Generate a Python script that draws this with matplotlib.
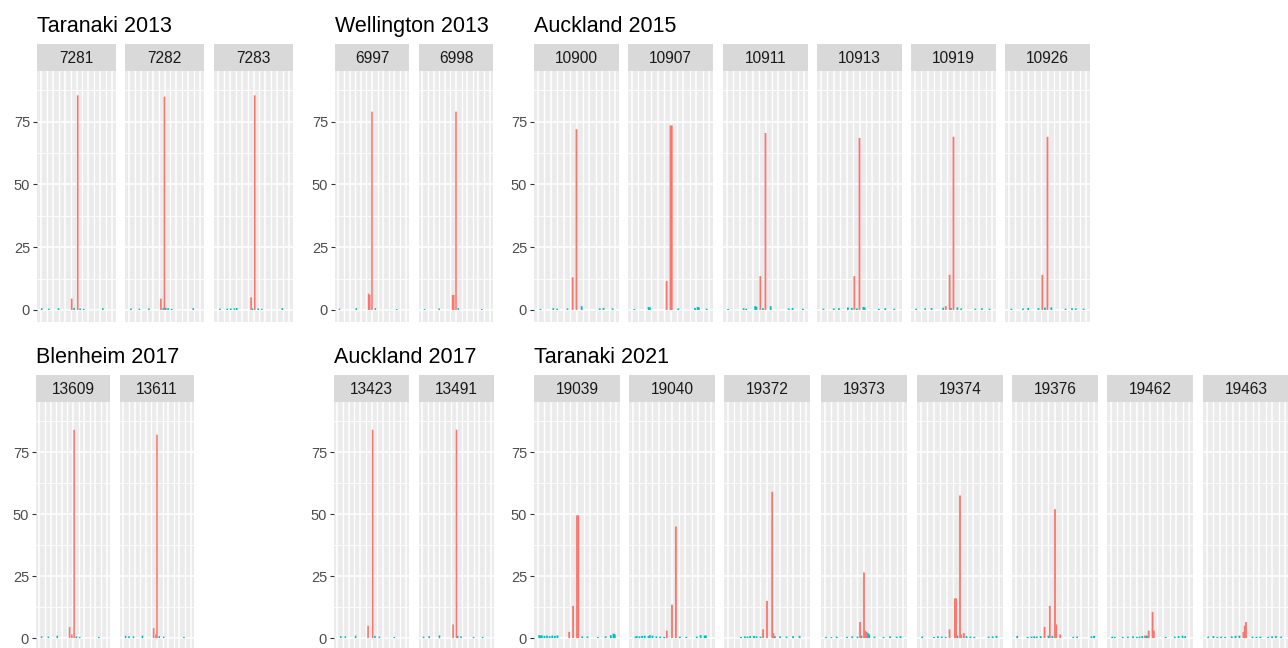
import matplotlib.pyplot as plt
import numpy as np

plt.rcParams['font.family'] = ['Liberation Sans', 'DejaVu Sans']

W, H = 1288, 648
RED = '#F8766D'
TEAL = '#00BFC4'

# ---- data (per group: sample ids, red bars, teal bars) ----
# Taranaki 2013
t13_ids = ['7281', '7282', '7283']
t13_red_x = [[26, 31], [27, 30], [28, 31]]
t13_red_y = [[4.5, 85.5], [4.5, 85], [5, 85.5]]
t13_teal_x = [[1, 7, 15, 28, 33, 36, 52],
              [2, 9, 17, 29, 31, 33, 36, 54],
              [2, 8, 11, 14, 16, 29, 34, 37, 54]]
t13_teal_y = [[0.7, 0.5, 0.7, 0.8, 0.6, 0.4, 0.7],
              [0.6, 0.5, 0.6, 0.8, 0.9, 0.7, 0.4, 0.7],
              [0.5, 0.5, 0.6, 0.6, 0.8, 0.6, 0.6, 0.4, 0.7]]

# Wellington 2013
w13_ids = ['6997', '6998']
w13_red_x = [[27, 28, 30], [27, 28, 30]]
w13_red_y = [[6.5, 6, 79], [6, 6, 79]]
w13_teal_x = [[1, 16, 33, 52], [2, 15, 32, 53]]
w13_teal_y = [[0.5, 0.7, 0.7, 0.4], [0.4, 0.6, 0.7, 0.4]]

# Auckland 2015
a15_ids = ['10900', '10907', '10911', '10913', '10919', '10926']
a15_red_x = [[27, 30], [27, 30, 31], [26, 30], [26, 30], [24, 27, 30], [26, 30]]
a15_red_y = [[13, 72], [11.5, 73.5, 73.5], [13.5, 70.5], [13.5, 68.5], [1.5, 14, 69], [14, 69]]
a15_teal_x = [[2, 12, 15, 23, 34, 48, 51, 58],
              [2, 13, 14, 36, 49, 51, 52, 58],
              [1, 13, 15, 22, 23, 28, 34, 48, 51, 59],
              [2, 10, 14, 21, 24, 28, 33, 34, 45, 50, 57],
              [1, 8, 13, 22, 28, 33, 36, 47, 52, 58],
              [2, 11, 15, 23, 28, 33, 44, 49, 52, 58]]
a15_teal_y = [[0.4, 0.7, 0.5, 0.6, 1.5, 0.6, 0.8, 0.6],
              [0.4, 1.2, 1.0, 0.6, 0.8, 1.2, 1.0, 0.5],
              [0.4, 0.7, 0.5, 1.5, 1.3, 0.7, 1.5, 0.6, 0.8, 0.5],
              [0.5, 0.6, 0.7, 1.0, 0.8, 0.6, 1.2, 1.0, 0.5, 0.7, 0.5],
              [0.5, 0.6, 0.7, 0.9, 0.8, 1.0, 0.6, 0.5, 0.7, 0.5],
              [0.5, 0.6, 0.8, 0.7, 0.9, 1.0, 0.5, 0.7, 0.6, 0.5]]

# Blenheim 2017
b17_ids = ['13609', '13611']
b17_red_x = [[27, 29, 31], [27, 29, 30]]
b17_red_y = [[4.5, 1.5, 84], [4, 1.5, 82]]
b17_teal_x = [[2, 8, 16, 33, 36, 53], [2, 5, 9, 17, 32, 36, 54]]
b17_teal_y = [[0.7, 0.6, 1.0, 0.7, 0.5, 0.5], [0.9, 0.8, 0.7, 1.0, 0.8, 0.6, 0.5]]

# Auckland 2017
a17_ids = ['13423', '13491']
a17_red_x = [[27, 31], [27, 30]]
a17_red_y = [[5, 84], [5.5, 84]]
a17_teal_x = [[3, 7, 16, 33, 37, 50], [1, 6, 15, 31, 34, 45, 53]]
a17_teal_y = [[0.8, 0.7, 1.0, 0.9, 0.6, 0.5], [0.6, 0.8, 1.1, 0.9, 0.7, 0.5, 0.5]]

# Taranaki 2021
t21_ids = ['19039', '19040', '19372', '19373', '19374', '19376', '19462', '19463']
t21_red_x = [[24, 27, 30, 31], [26, 30, 33], [27, 30, 34, 35], [27, 30, 31, 32],
             [22, 26, 27, 30, 31, 33], [22, 26, 30, 31, 34], [26, 29, 32, 33], [28, 29, 30]]
t21_red_y = [[2.5, 13, 49.5, 49.5], [3, 13.5, 45], [3.5, 15, 59, 2], [6.5, 26.5, 3, 2.5],
             [3.5, 16, 16, 57.5, 1.5, 2], [4.5, 13, 52, 5.5, 1.5], [1, 3, 10.5, 3], [2.5, 5, 6.5]]
t21_teal_x = [[1, 2, 3, 5, 7, 9, 11, 13, 15, 34, 38, 46, 52, 56, 58, 59],
              [2, 3, 5, 7, 9, 12, 13, 15, 18, 21, 24, 36, 41, 49, 52, 55, 56],
              [10, 13, 15, 17, 20, 22, 25, 36, 40, 45, 50, 55],
              [1, 5, 9, 17, 21, 25, 28, 33, 34, 38, 45, 50, 55, 58],
              [1, 10, 13, 16, 19, 28, 35, 38, 41, 52, 55, 58],
              [1, 9, 12, 14, 16, 19, 25, 28, 44, 47, 58, 60],
              [1, 3, 9, 13, 17, 20, 22, 24, 27, 28, 42, 49, 52, 55, 57],
              [1, 5, 8, 11, 14, 19, 22, 25, 35, 38, 41, 47, 50, 53, 57]]
t21_teal_y = [[1.2, 1.0, 1.1, 0.9, 1.0, 0.8, 1.0, 0.9, 1.1, 0.7, 0.6, 0.5, 0.7, 1.2, 1.8, 1.5],
              [0.6, 0.8, 0.7, 0.9, 1.0, 0.8, 1.2, 1.0, 0.7, 0.6, 0.5, 0.6, 0.5, 0.6, 1.2, 1.0, 1.1],
              [0.5, 0.7, 0.6, 0.8, 0.9, 0.7, 0.6, 0.8, 0.7, 0.6, 0.8, 0.9],
              [0.5, 0.4, 0.6, 0.5, 0.7, 0.6, 1.0, 2.0, 1.5, 0.6, 0.5, 0.7, 0.6, 0.8],
              [0.6, 0.5, 0.7, 0.6, 0.5, 1.0, 0.8, 0.6, 0.5, 0.6, 0.7, 0.9],
              [0.9, 0.5, 0.6, 0.7, 0.6, 0.8, 1.0, 0.9, 0.5, 0.6, 0.7, 0.9],
              [0.6, 0.5, 0.5, 0.6, 0.7, 0.5, 0.6, 0.8, 1.0, 0.9, 0.5, 0.6, 0.8, 1.0, 0.8],
              [0.6, 0.8, 0.5, 0.6, 0.5, 0.7, 0.9, 1.0, 0.6, 0.5, 0.6, 0.5, 0.7, 0.8, 0.6]]

fig = plt.figure(figsize=(W / 100, H / 100), dpi=100)
fig.patch.set_facecolor('white')


def px_axes(x0, y0, x1, y1):
    # pixel box (top-left origin) -> figure axes
    return fig.add_axes([x0 / W, 1 - y1 / H, (x1 - x0) / W, (y1 - y0) / H])


def draw_group(title, lefts, width, strip_top, strip_bot, panel_bot,
               ids, red_x, red_y, teal_x, teal_y):
    fig.text(lefts[0] / W, 1 - (strip_top - 12) / H, title, fontsize=15.5,
             color='black', ha='left', va='baseline')
    for i, left in enumerate(lefts):
        # strip
        sax = px_axes(left, strip_top, left + width, strip_bot)
        sax.set_facecolor('#D9D9D9')
        sax.set_xticks([])
        sax.set_yticks([])
        for s in sax.spines.values():
            s.set_visible(False)
        sax.text(0.5, 0.45, ids[i], transform=sax.transAxes, ha='center', va='center',
                 fontsize=11.2, color='#1A1A1A')
        # panel
        ax = px_axes(left, strip_bot, left + width, panel_bot)
        ax.set_facecolor('#EBEBEB')
        for s in ax.spines.values():
            s.set_visible(False)
        ax.set_xlim(-3, 63)
        ax.set_ylim(-4.8, 95.2)
        ax.set_xticks(np.arange(0, 61, 10))
        ax.set_xticks(np.arange(5, 61, 10), minor=True)
        ax.set_yticks([0, 25, 50, 75])
        ax.set_yticks([12.5, 37.5, 62.5, 87.5], minor=True)
        ax.grid(which='major', color='white', linewidth=1.1)
        ax.grid(which='minor', axis='x', color='white', linewidth=1.0)
        ax.grid(which='minor', axis='y', color='white', linewidth=0.6)
        ax.set_axisbelow(True)
        ax.tick_params(axis='x', which='both', length=0, labelbottom=False)
        ax.tick_params(axis='y', which='minor', length=0)
        if i == 0:
            ax.tick_params(axis='y', which='major', length=3, width=0.8, color='#333333',
                           labelsize=10.5, labelcolor='#4D4D4D', pad=2)
        else:
            ax.tick_params(axis='y', which='major', length=0, labelleft=False)
        tb = ax.bar(teal_x[i], teal_y[i], width=1.4, color=TEAL, linewidth=0)
        rb = ax.bar(red_x[i], red_y[i], width=1.4, color=RED, linewidth=0)
        for p in list(tb) + list(rb):
            p.set_snap(False)


draw_group('Taranaki 2013', [37, 125, 214], 79, 44, 71, 322,
           t13_ids, t13_red_x, t13_red_y, t13_teal_x, t13_teal_y)
draw_group('Wellington 2013', [335, 419], 74, 44, 71, 322,
           w13_ids, w13_red_x, w13_red_y, w13_teal_x, w13_teal_y)
draw_group('Auckland 2015', [534, 628, 723, 817, 911, 1005], 85, 44, 71, 322,
           a15_ids, a15_red_x, a15_red_y, a15_teal_x, a15_teal_y)
draw_group('Blenheim 2017', [36, 120], 74, 375, 402, 650,
           b17_ids, b17_red_x, b17_red_y, b17_teal_x, b17_teal_y)
draw_group('Auckland 2017', [334, 419], 75, 375, 402, 650,
           a17_ids, a17_red_x, a17_red_y, a17_teal_x, a17_teal_y)
draw_group('Taranaki 2021', [534, 629, 724, 821, 917, 1012, 1107, 1203], 86, 375, 402, 650,
           t21_ids, t21_red_x, t21_red_y, t21_teal_x, t21_teal_y)

fig.savefig('out.png', dpi=100)
